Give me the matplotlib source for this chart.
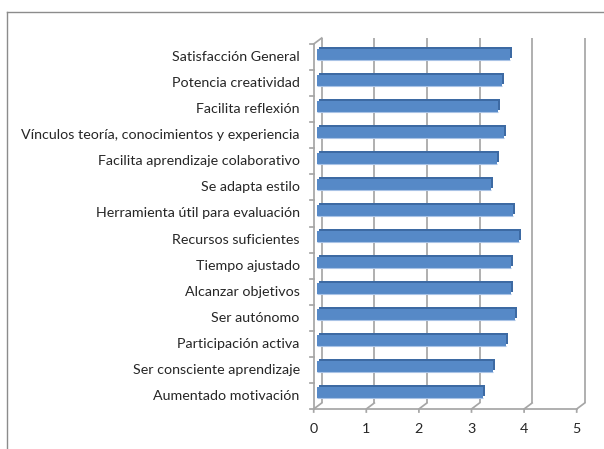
import matplotlib
matplotlib.use("Agg")
import matplotlib.pyplot as plt
from matplotlib.transforms import offset_copy
from matplotlib.lines import Line2D

categories = [
    "Aumentado motivación",
    "Ser consciente aprendizaje",
    "Participación activa",
    "Ser autónomo",
    "Alcanzar objetivos",
    "Tiempo ajustado",
    "Recursos suficientes",
    "Herramienta útil para evaluación",
    "Se adapta estilo",
    "Facilita aprendizaje colaborativo",
    "Vínculos teoría, conocimientos y experiencia",
    "Facilita reflexión",
    "Potencia creatividad",
    "Satisfacción General",
]
values = [3.16, 3.36, 3.60, 3.77, 3.69, 3.70, 3.85, 3.73, 3.31, 3.43, 3.56, 3.45, 3.52, 3.67]
xticks = [0, 1, 2, 3, 4, 5]

W, H = 604, 449
fig = plt.figure(figsize=(W / 100, H / 100), dpi=100)
fig.patch.set_facecolor("white")

x0, ppu = 313.7, 52.6
ytop, ybot = 44, 409
ax = fig.add_axes([x0 / W, (H - ybot) / H, 5 * ppu / W, (ybot - ytop) / H])
ax.set_xlim(0, 5)
ax.set_ylim(-0.5, len(categories) - 0.5)
ax.axis("off")

def off(dx, dy):
    return offset_copy(ax.transData, fig=fig, x=dx, y=dy, units="dots")

grid_c = "#A6A6A6"
lw = 1.25
n = len(categories)
back = off(8, 6)
inv = fig.transFigure.inverted()
font = ["Lato", "DejaVu Sans"]

for k in xticks:
    ax.plot([k, k], [-0.5, n - 0.5], color=grid_c, lw=lw, transform=back, clip_on=False,
            solid_capstyle="butt")
    bx, by = ax.transData.transform((k, -0.5))
    p1 = inv.transform((bx + 8, by + 6))
    p2 = inv.transform((bx, by))
    p3 = inv.transform((bx, by - 3))
    fig.add_artist(Line2D([p1[0], p2[0], p3[0]], [p1[1], p2[1], p3[1]], color=grid_c, lw=lw,
                          transform=fig.transFigure))
    ax.text(k, -0.5, str(k), transform=off(0, -20), ha="center", va="center",
            fontsize=10.3, family=font, color="#262626", clip_on=False)

tx, ty = ax.transData.transform((0, n - 0.5))
q1 = inv.transform((tx, ty)); q2 = inv.transform((tx + 8, ty + 6))
fig.add_artist(Line2D([q1[0], q2[0]], [q1[1], q2[1]], color=grid_c, lw=lw, transform=fig.transFigure))

ax.plot([0, 5], [-0.5, -0.5], color=grid_c, lw=lw, clip_on=False)
ax.plot([0, 0], [-0.5, n - 0.5], color=grid_c, lw=lw, clip_on=False)
for i in range(n + 1):
    b = i - 0.5
    px, py = ax.transData.transform((0, b))
    r1 = inv.transform((px, py)); r2 = inv.transform((px - 4, py))
    fig.add_artist(Line2D([r1[0], r2[0]], [r1[1], r2[1]], color=grid_c, lw=lw, transform=fig.transFigure))

ypos = list(range(n))
bh = 0.42
ax.barh(ypos, values, height=bh, color="#3D6AA3", transform=off(5, 5), clip_on=False,
        zorder=3, linewidth=0)
ax.barh(ypos, values, height=bh, color="#5689C7", linewidth=0,
        transform=off(3, 3), clip_on=False, zorder=4)
# light lower edge of front face
for i, v in enumerate(values):
    ax.plot([0, v], [i - bh / 2, i - bh / 2], color="#A9C3E6", lw=0.8, transform=off(3, 3),
            clip_on=False, zorder=5, solid_capstyle="butt")

for i, c in enumerate(categories):
    ax.text(0, i, c, transform=off(-14, 0), ha="right", va="center", fontsize=10.3,
            family=font, color="#262626", clip_on=False)

border_c = "#8C8C8C"
fig.add_artist(Line2D([7 / W, 7 / W], [0, 1 - 12 / H], color=border_c, lw=1.0, transform=fig.transFigure))
fig.add_artist(Line2D([7 / W, 1], [1 - 12 / H, 1 - 12 / H], color=border_c, lw=1.0, transform=fig.transFigure))

fig.savefig("out.png", dpi=100)
